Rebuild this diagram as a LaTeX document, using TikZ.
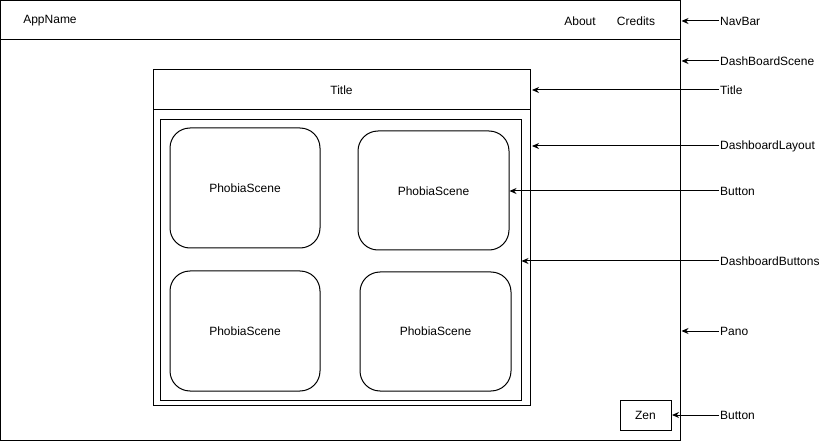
\documentclass[tikz,border=0pt]{standalone}
\usepackage{fontspec}
\setmainfont{Liberation Sans}
\usetikzlibrary{arrows.meta,calc}
\begin{document}
\begin{tikzpicture}[x=1pt,y=-1pt,
  box/.style={draw,line width=1pt,inner sep=0pt},
  scenebox/.style={draw,line width=1pt,rounded corners=20pt},
  txt/.style={font=\fontsize{12}{14}\selectfont,inner sep=0pt},
  lbl/.style={font=\fontsize{12}{14}\selectfont,inner sep=1pt,anchor=west},
  pointer/.style={line width=1pt,-{Stealth[length=7pt,width=6pt]}}]
\useasboundingbox (0,0) rectangle (831,441);
% outer pano
\draw[box] (0.5,0.5) rectangle (680,440);
\coordinate (outerE) at (680,0);
\draw[line width=1pt] (0.5,40) -- (680,40);
\node[txt] (appname) at (50,21) {AppName};
\node[txt] (about) at (580,21) {About};
\node[txt] (credits) at (636,21) {Credits};
% dashboard layout
\draw[box] (153,70) rectangle (530,405);
\draw[line width=1pt] (153,110) -- (530,110);
\coordinate (layoutE) at (531,0);
\node[txt] (title) at (341.5,90) {Title};
% dashboard buttons
\draw[box] (160,120) rectangle (521,400);
\coordinate (buttonsE) at (521,0);
% phobia scenes
\draw[scenebox] (170,128) rectangle (320,248);
\node[txt] (s1) at (245,188) {PhobiaScene};
\draw[scenebox] (358,131) rectangle (509,250);
\coordinate (s2E) at (509,0);
\node[txt] (s2) at (433.5,191) {PhobiaScene};
\draw[scenebox] (170,271) rectangle (320,391);
\node[txt] (s3) at (245,331) {PhobiaScene};
\draw[scenebox] (360,272) rectangle (511,391);
\node[txt] (s4) at (435.5,331) {PhobiaScene};
% zen
\node[box,minimum width=51pt,minimum height=30pt,txt,draw] (zen) at (645.5,415) {Zen};
% labels
\node[lbl] (lnav) at (719,21) {NavBar};
\node[lbl] (ldash) at (719,61) {DashBoardScene};
\node[lbl] (ltitle) at (719,90) {Title};
\node[lbl] (llayout) at (719,146) {DashboardLayout};
\node[lbl] (lbutton) at (719,191) {Button};
\node[lbl] (lbuttons) at (719,261) {DashboardButtons};
\node[lbl] (lpano) at (719,331) {Pano};
\node[lbl] (lzen) at (719,415) {Button};
% pointers
\draw[pointer] (lnav.west) -- ($(lnav.west -| outerE)+(1.5,0)$);
\draw[pointer] (ldash.west) -- ($(ldash.west -| outerE)+(1.5,0)$);
\draw[pointer] (ltitle.west) -- ($(ltitle.west -| layoutE)+(1,0)$);
\draw[pointer] (llayout.west) -- ($(llayout.west -| layoutE)+(1,0)$);
\draw[pointer] (lbutton.west) -- ($(lbutton.west -| s2E)+(0.5,0)$);
\draw[pointer] (lbuttons.west) -- ($(lbuttons.west -| buttonsE)+(0.5,0)$);
\draw[pointer] (lpano.west) -- ($(lpano.west -| outerE)+(1.5,0)$);
\draw[pointer] (lzen.west) -- ($(zen.east)+(0.5,0)$);
\end{tikzpicture}
\end{document}
